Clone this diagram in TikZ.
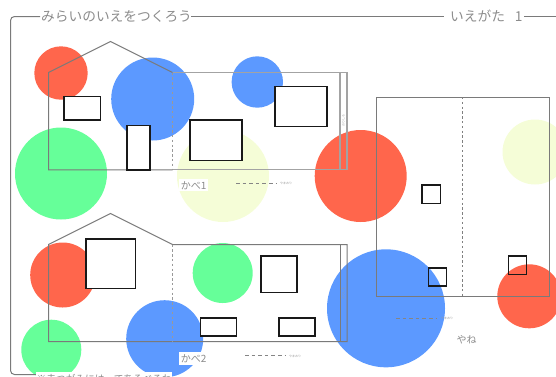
\documentclass[tikz,border=0pt]{standalone}
\usepackage{fontspec}
\setmainfont{Noto Sans CJK JP}
\definecolor{cred}{RGB}{255,102,76}
\definecolor{cblue}{RGB}{92,153,255}
\definecolor{cgreen}{RGB}{102,255,153}
\definecolor{cyellow}{RGB}{245,253,215}
\definecolor{ctxt}{RGB}{140,140,140}
\tikzset{
  cutrect/.style={draw=black!90,line width=1.3pt},
  wallrect/.style={cutrect,fill=white},
  outline/.style={draw=black!52,line width=1pt},
  softline/.style={draw=black!36,line width=1.3pt},
  foldline/.style={draw=black!40,line width=1.1pt,dash pattern=on 2.4pt off 2.4pt},
  legendline/.style={draw=black!48,line width=.9pt,dash pattern=on 3.6pt off 3pt},
  frameline/.style={draw=black!52,line width=1pt},
  title/.style={text=ctxt,font=\fontsize{13.7pt}{14pt}\selectfont,inner sep=0pt,anchor=west},
  smalllabel/.style={text=ctxt,font=\fontsize{10pt}{11pt}\selectfont,inner sep=0pt},
  tiny/.style={text=black!40,font=\fontsize{3pt}{3pt}\selectfont,inner sep=0pt},
}
\begin{document}
\begin{tikzpicture}[x=1pt,y=-1pt]
\useasboundingbox (0,0) rectangle (556,376);
\clip (0,0) rectangle (556,376);
% colour spots
\fill[cred] (61,73) circle (26.7);
\fill[cblue] (152.7,99) circle (41.5);
\fill[cblue] (257.3,82) circle (25.7);
\fill[cgreen] (61,173.5) circle (46);
\fill[cyellow] (223,176) circle (46);
\fill[cred] (360.7,176) circle (46);
\fill[cyellow] (535,152) circle (32.5);
\fill[cred] (62.7,275) circle (32.5);
\fill[cgreen] (222.7,273) circle (30);
\fill[cgreen] (51.3,349.7) circle (30);
\fill[cblue] (164.7,338.7) circle (38.5);
\fill[cblue] (386,308.3) circle (59);
\fill[cred] (529.3,296.3) circle (32);
% frame
\coordinate (fa) at (40,16.5);
\coordinate (fb) at (191,16.5);
\coordinate (fc) at (444,16.5);
\coordinate (fd) at (524,16.5);
\coordinate (fe) at (556,16.5);
\draw[frameline,rounded corners=4pt] (fa) -- (10.5,16.5) -- (10.5,374.5) -- (36,374.5);
\draw[frameline] (fb) -- (fc);
\draw[frameline] (fd) -- (fe);
\node[title] (maintitle) at (41,16.3) {みらいのいえをつくろう};
\node[title] (subtitle) at (450,16.3) {いえがた\hspace{10pt}1};
% wall 1
\draw[outline] (172.5,169.8) -- (48.5,169.8) -- (48.5,72.5) -- (110.5,41.5) -- (172.5,72.5);
\draw[softline] (172.5,72.5) -- (347,72.5) -- (347,169.8) -- (172.5,169.8);
\draw[softline] (340,72.5) -- (340,169.8);
\draw[foldline] (172.8,72.5) -- (172.8,169.8);
\foreach \a/\b/\c/\d in {64/96.5/100.3/120,127/125.3/150/170,190/120/242/160.5,275/86.3/327/126.5}
  \draw[wallrect] (\a,\b) rectangle (\c,\d);
\node[tiny,rotate=90] (glue1) at (343.5,120) {のりしろ};
\node[smalllabel,fill=white,inner xsep=0pt,inner ysep=2pt,minimum width=29pt,anchor=west] (wall1) at (179,185.3) {かべ1};
\coordinate (l1a) at (236,183);
\coordinate (l1b) at (277,183);
\draw[legendline] (l1a) -- (l1b);
\node[tiny,anchor=west] (fold1) at (280,183.5) {やまおり};
% wall 2
\draw[outline] (347,341.5) -- (48.5,341.5) -- (48.5,244.5) -- (110.5,213.5) -- (172.5,244.5) -- (347,244.5) -- cycle;
\draw[outline] (340,244.5) -- (340,341.5);
\draw[foldline] (172.8,244.5) -- (172.8,341.5);
\foreach \a/\b/\c/\d in {86/239/135.5/288.5,261/256/297/292.5,200.5/318/236.5/336,279/318/315/336}
  \draw[wallrect] (\a,\b) rectangle (\c,\d);
\node[tiny,rotate=90] (glue2) at (343.5,293) {のりしろ};
\node[smalllabel,fill=white,inner xsep=0pt,inner ysep=2pt,minimum width=29pt,anchor=west] (wall2) at (179,358.5) {かべ2};
\coordinate (l2a) at (245,355.5);
\coordinate (l2b) at (285,355.5);
\draw[legendline] (l2a) -- (l2b);
\node[tiny,anchor=west] (fold2) at (289,356) {やまおり};
% roof
\draw[outline] (376.5,97) rectangle (549.5,296.5);
\draw[foldline,draw=black!50,line width=.8pt] (462.7,97) -- (462.7,296.5);
\foreach \a/\b/\c/\d in {422/185/440.5/203.5,428.5/268/446.5/286,508.5/256/526.5/274.5}
  \draw[cutrect] (\a,\b) rectangle (\c,\d);
\coordinate (l3a) at (396,318);
\coordinate (l3b) at (437,318);
\draw[legendline] (l3a) -- (l3b);
\node[tiny,anchor=west] (fold3) at (441,318.5) {やまおり};
\node[smalllabel,anchor=center] (roof) at (466.5,339.5) {やね};
% note
\node[smalllabel,fill=white,font=\fontsize{9.7pt}{11pt}\selectfont,inner xsep=.5pt,inner ysep=1.5pt,anchor=west] (note) at (36,378.5) {※赤つがみにはってあそべるわ};
\end{tikzpicture}
\end{document}
